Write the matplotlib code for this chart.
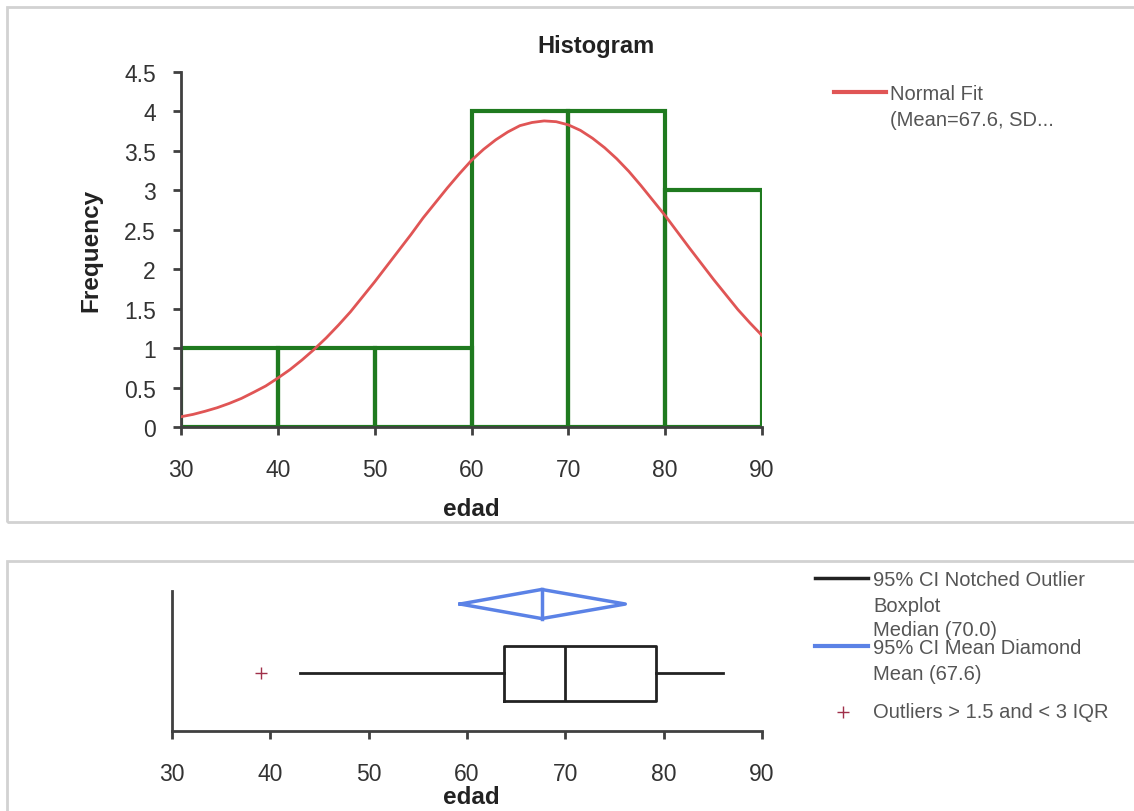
import matplotlib
matplotlib.use("Agg")
import matplotlib.pyplot as plt
from matplotlib.lines import Line2D
from matplotlib.patches import Rectangle

plt.rcParams["font.family"] = ["Liberation Sans", "DejaVu Sans"]

# histogram of edad
bin_edges = [30, 40, 50, 60, 70, 80, 90]
counts = [1, 1, 1, 4, 4, 3]

# normal fit curve (mean 67.6)
fit_x = [30, 31.25, 32.5, 33.75, 35, 36.25, 37.5, 38.75, 40, 41.25, 42.5,
         43.75, 45, 46.25, 47.5, 48.75, 50, 51.25, 52.5, 53.75, 55, 56.25,
         57.5, 58.75, 60, 61.25, 62.5, 63.75, 65, 66.25, 67.5, 68.75, 70,
         71.25, 72.5, 73.75, 75, 76.25, 77.5, 78.75, 80, 81.25, 82.5, 83.75,
         85, 86.25, 87.5, 88.75, 90]
fit_y = [0.13, 0.16, 0.20, 0.245, 0.30, 0.363, 0.44, 0.52, 0.62, 0.727, 0.85,
         0.984, 1.13, 1.29, 1.46, 1.65, 1.84, 2.04, 2.24, 2.44, 2.65, 2.84,
         3.03, 3.21, 3.38, 3.52, 3.64, 3.74, 3.82, 3.86, 3.88, 3.87, 3.83,
         3.76, 3.66, 3.54, 3.40, 3.24, 3.06, 2.87, 2.68, 2.475, 2.27, 2.07,
         1.87, 1.68, 1.49, 1.32, 1.16]

# boxplot summary
box_q1, box_med, box_q3 = 63.8, 70.0, 79.2
whisk_lo, whisk_hi = 43.0, 86.0
outliers = [39.0]
mean_val, ci_lo, ci_hi = 67.6, 59.3, 76.1

x_ticks = [30, 40, 50, 60, 70, 80, 90]
y_ticks = [0, 0.5, 1, 1.5, 2, 2.5, 3, 3.5, 4, 4.5]

GREEN = "#1f7a1f"
RED = "#e05555"
BLUE = "#5b82e6"
SPINE = "#404040"
TXT = "#333333"
LEG = "#555555"

W, H = 1134, 812
fig = plt.figure(figsize=(W / 100, H / 100), dpi=100)


def fx(px):
    return px / W


def fy(py):
    return 1 - py / H


# panel frames
fig.patches.append(Rectangle((fx(7), fy(523)), fx(1140), 515 / H, transform=fig.transFigure,
                             fill=False, ec="#d2d2d2", lw=2))
fig.patches.append(Rectangle((fx(7), fy(830)), fx(1140), 268 / H, transform=fig.transFigure,
                             fill=False, ec="#d2d2d2", lw=2))


def style_axes(ax):
    for s in ("top", "right"):
        ax.spines[s].set_visible(False)
    for s in ("left", "bottom"):
        ax.spines[s].set_color(SPINE)
        ax.spines[s].set_linewidth(2)
    ax.set_xlim(30, 90)
    ax.set_xticks(x_ticks)
    ax.tick_params(axis="x", direction="out", length=6, width=2, color=SPINE,
                   labelsize=16.5, labelcolor=TXT, pad=16)


# ---- histogram ----
ax = fig.add_axes([fx(181), fy(428), 581 / W, 355 / H])
style_axes(ax)
ax.bar(bin_edges[:-1], counts, width=10, align="edge", fill=False,
       edgecolor=GREEN, linewidth=3, zorder=2)
ax.plot(fit_x, fit_y, color=RED, lw=2, zorder=3)
ax.set_ylim(0, 4.5)
ax.set_yticks(y_ticks)
ax.set_yticklabels([f"{v:g}" for v in y_ticks])
ax.tick_params(axis="y", direction="out", length=6, width=2, color=SPINE,
               labelsize=16.5, labelcolor=TXT, pad=12)
ax.set_xlabel("edad", fontsize=17.5, fontweight="bold", color="#222222")
ax.xaxis.set_label_coords(0.5, -0.196)
ax.set_ylabel("Frequency", fontsize=17.5, fontweight="bold", color="#222222")
ax.yaxis.set_label_coords(-0.136, 0.5)
fig.text(fx(596), fy(46), "Histogram", fontsize=17, fontweight="bold",
         color="#222222", ha="center", va="center")

# legend (top)
fig.add_artist(Line2D([fx(834), fx(886)], [fy(93), fy(93)], color=RED, lw=3,
                      transform=fig.transFigure))
fig.text(fx(890), fy(94), "Normal Fit", fontsize=14.5, color=LEG, va="center")
fig.text(fx(890), fy(120), "(Mean=67.6, SD...", fontsize=14.5, color=LEG, va="center")

# ---- boxplot ----
bx = fig.add_axes([fx(172), fy(732), 590 / W, 140 / H])
style_axes(bx)
bx.set_ylim(0, 1)
bx.set_yticks([])
box_y, box_h = 0.414, 0.393
stats = [dict(med=box_med, q1=box_q1, q3=box_q3, whislo=whisk_lo,
              whishi=whisk_hi, fliers=outliers)]
bx.bxp(stats, positions=[box_y], widths=box_h, orientation="horizontal",
       showcaps=False, manage_ticks=False,
       boxprops=dict(color="#222222", lw=2),
       whiskerprops=dict(color="#222222", lw=2),
       medianprops=dict(color="#222222", lw=2),
       flierprops=dict(marker="+", markeredgecolor="#a0304a",
                       markersize=9, markeredgewidth=1))
dia_y, dia_h = 0.907, 0.104
bx.plot([ci_lo, mean_val, ci_hi, mean_val, ci_lo],
        [dia_y, dia_y + dia_h, dia_y, dia_y - dia_h, dia_y],
        color=BLUE, lw=2.5, clip_on=False)
bx.plot([mean_val, mean_val], [dia_y - dia_h, dia_y + dia_h], color=BLUE, lw=2.5,
        clip_on=False)
bx.set_xlabel("edad", fontsize=17.5, fontweight="bold", color="#222222")
bx.xaxis.set_label_coords(0.508, -0.385)

# legend (bottom)
fig.add_artist(Line2D([fx(815), fx(868)], [fy(579), fy(579)], color="#222222", lw=2.5,
                      transform=fig.transFigure))
fig.add_artist(Line2D([fx(815), fx(868)], [fy(647), fy(647)], color=BLUE, lw=3,
                      transform=fig.transFigure))
fig.add_artist(Line2D([fx(843)], [fy(713)], marker="+", color="#a0304a", markersize=9,
                      markeredgewidth=1, transform=fig.transFigure))
for py, s in [(580, "95% CI Notched Outlier"), (606, "Boxplot"),
              (631, "Median (70.0)"), (649, "95% CI Mean Diamond"),
              (675, "Mean (67.6)"), (713, "Outliers > 1.5 and < 3 IQR")]:
    fig.text(fx(873), fy(py), s, fontsize=14.5, color=LEG, va="center")

fig.savefig("out.png", dpi=100)
